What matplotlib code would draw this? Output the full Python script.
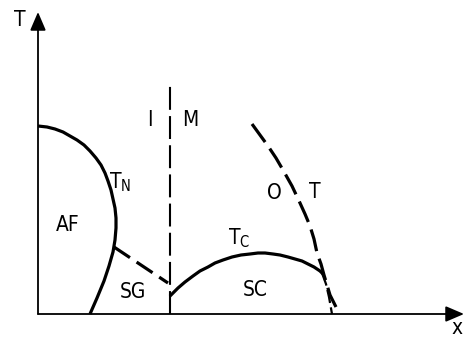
import matplotlib.pyplot as plt

plt.rcParams['font.family'] = ['DejaVu Sans']
plt.rcParams['font.stretch'] = 'condensed'

# schematic phase diagram, arbitrary units (x, T)
tn_x = [0, 9, 17, 25, 32, 39, 46, 52, 58, 63, 67, 70, 73, 75, 77, 78, 78, 77, 75, 71, 66, 59, 52]
tn_T = [188, 187, 185, 182, 178, 174, 169, 163, 156, 149, 141, 133, 124, 115, 106, 96, 86, 74, 62, 48, 33, 16, 0]

sg_x = [76, 130]
sg_T = [67, 31]

im_x = [132, 132]
im_T = [0, 232]

tc_x = [133, 140, 147, 155, 162, 170, 177, 185, 194, 203, 212, 220, 227, 235, 242, 250, 257, 264, 270, 276, 282, 284]
tc_T = [19, 26, 32, 38, 43, 47, 51, 54, 57, 59, 60, 61, 61, 60, 59, 57, 55, 53, 50, 47, 43, 41]

tc_tail_x = [284, 288, 291, 294]
tc_tail_T = [41, 30, 17, 0]

ot_x = [214, 222, 230, 238, 245, 254, 262, 267, 272, 276, 279, 283, 286, 289, 292, 298]
ot_T = [190, 179, 168, 156, 144, 128, 111, 100, 88, 75, 61, 50, 39, 29, 19, 7]

labels = ['I', 'M', r'$\mathregular{T_N}$', 'AF', 'SG', r'$\mathregular{T_C}$', 'SC', 'O', 'T']
label_x = [112, 152, 82, 30, 95, 201, 217, 236, 277]
label_T = [194, 194, 132, 89, 22, 76, 24, 121, 122]

fig = plt.figure(figsize=(4.64, 3.37), dpi=100)
ax = fig.add_axes([0, 0, 1, 1])
ax.set_xlim(-38, 426)
ax.set_ylim(-23, 314)
ax.axis('off')

# axes with arrows
ax.annotate('', xy=(0, 302), xytext=(0, 0),
            arrowprops=dict(arrowstyle='-|>,head_length=0.7,head_width=0.3', lw=1.3, color='black',
                            mutation_scale=16, shrinkA=0, shrinkB=0))
ax.annotate('', xy=(426, 0), xytext=(0, 0),
            arrowprops=dict(arrowstyle='-|>,head_length=0.7,head_width=0.3', lw=1.3, color='black',
                            mutation_scale=16, shrinkA=0, shrinkB=0))
ax.text(-18, 294, 'T', fontsize=15, ha='center', va='center')
ax.text(419, -14, 'x', fontsize=15, ha='center', va='center')

ax.plot(tn_x, tn_T, color='black', lw=2.3, solid_capstyle='butt')
ax.plot(sg_x, sg_T, color='black', lw=2.3, dashes=(6, 2.5))
ax.plot(im_x, im_T, color='black', lw=1.5, dashes=(11, 3))
ax.plot(tc_x, tc_T, color='black', lw=2.3)
ax.plot(tc_tail_x, tc_tail_T, color='black', lw=1.6, dashes=(6, 2))
ax.plot(ot_x, ot_T, color='black', lw=2.3, dashes=(7, 2.5))

for lab, lx, lt in zip(labels, label_x, label_T):
    ax.text(lx, lt, lab, fontsize=15, ha='center', va='center')

fig.savefig('out.png', dpi=100)
